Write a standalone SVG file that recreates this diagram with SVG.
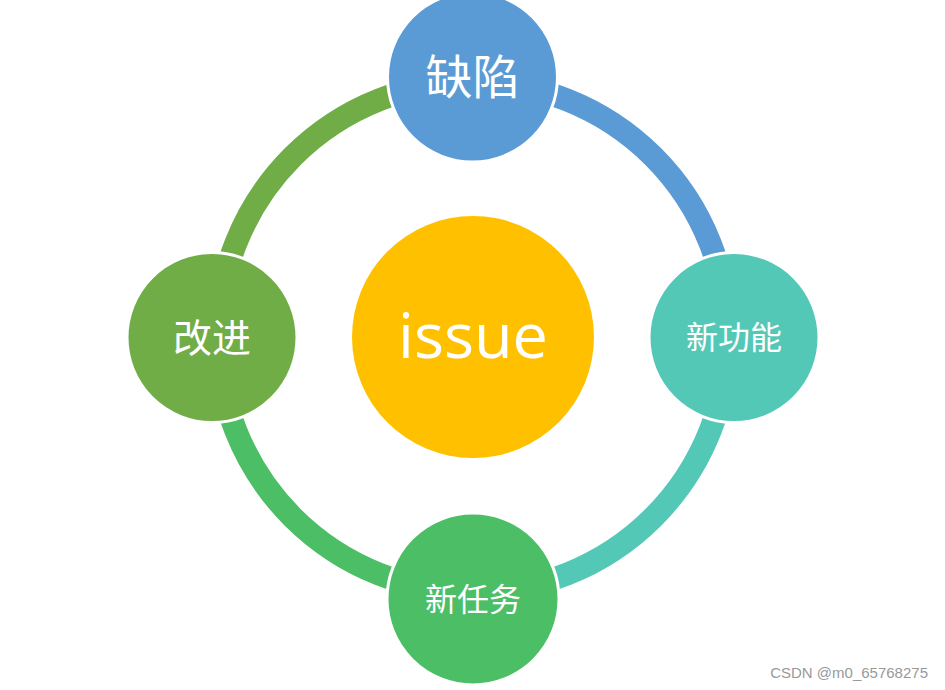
<svg xmlns="http://www.w3.org/2000/svg" width="945" height="690" viewBox="0 0 945 690">
<style>
.arc{fill:none;stroke-width:23}
.node{stroke:#fff;stroke-width:3}
.lbl{fill:#fff;font-family:"Noto Sans CJK SC","Noto Sans",sans-serif;text-anchor:middle;dominant-baseline:central}
</style>
<rect width="945" height="690" fill="#fff"/>
<g id="connectors">
<path class="arc" stroke="#5B9BD5" d="M473 82 A255 255 0 0 1 728 337"/>
<path class="arc" stroke="#53C8B6" d="M728 337 A255 255 0 0 1 473 592"/>
<path class="arc" stroke="#4BBE66" d="M473 592 A255 255 0 0 1 218 337"/>
<path class="arc" stroke="#70AD47" d="M218 337 A255 255 0 0 1 473 82"/>
</g>
<g id="center">
<circle cx="473" cy="337" r="121" fill="#FFC000"/>
<text x="473" y="358" font-family="'Open Sans',sans-serif" font-size="63" fill="#fff" text-anchor="middle">issue</text>
</g>
<g id="top">
<circle class="node" cx="472.5" cy="77" r="85" fill="#5B9BD5"/>
<text class="lbl" x="472.5" y="73" font-size="47">缺陷</text>
</g>
<g id="right">
<circle class="node" cx="734" cy="337.5" r="85" fill="#53C8B6"/>
<text class="lbl" x="734" y="335" font-size="32">新功能</text>
</g>
<g id="bottom">
<circle class="node" cx="473" cy="599" r="86" fill="#4BBE66"/>
<text class="lbl" x="473" y="597" font-size="32">新任务</text>
</g>
<g id="left">
<circle class="node" cx="212" cy="337.5" r="85" fill="#70AD47"/>
<text class="lbl" x="212" y="335" font-size="39">改进</text>
</g>
<text x="928" y="678" font-family="'Liberation Sans',sans-serif" font-size="15" fill="#999" text-anchor="end">CSDN @m0_65768275</text>
</svg>
